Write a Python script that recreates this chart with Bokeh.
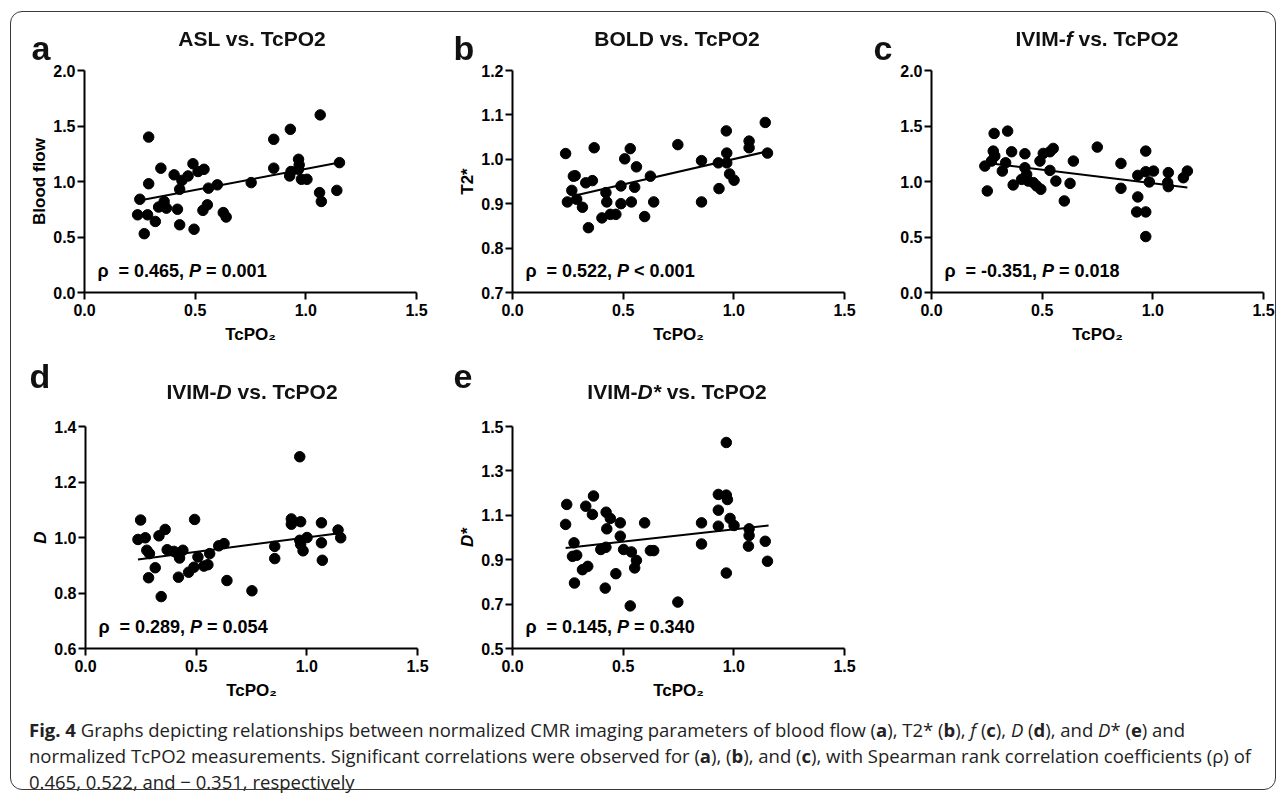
from bokeh.plotting import figure
from bokeh.models import Range1d, FixedTicker, Label, Div
from bokeh.layouts import column, row
from bokeh.embed import file_html
from bokeh.resources import INLINE

# ---------------- data ----------------
x_ticks = [0.0, 0.5, 1.0, 1.5]
x_tick_labels = ["0.0", "0.5", "1.0", "1.5"]

a_x = [0.29, 0.25, 0.24, 0.285, 0.27, 0.29, 0.32, 0.345, 0.335, 0.36, 0.37, 0.405, 0.42, 0.43, 0.43,
       0.44, 0.468, 0.49, 0.495, 0.513, 0.54, 0.535, 0.555, 0.56, 0.60, 0.627, 0.64, 0.753, 0.855,
       0.855, 0.93, 0.927, 0.933, 0.967, 0.97, 0.967, 0.98, 1.005, 1.065, 1.062, 1.07, 1.14, 1.152]
a_y = [1.40, 0.84, 0.70, 0.70, 0.53, 0.98, 0.64, 1.12, 0.77, 0.82, 0.76, 1.06, 0.75, 0.93, 0.61,
       1.01, 1.05, 1.16, 0.57, 1.09, 1.11, 0.74, 0.79, 0.94, 0.97, 0.72, 0.68, 0.99, 1.38,
       1.12, 1.47, 1.05, 1.09, 1.20, 1.15, 1.11, 1.02, 1.02, 1.60, 0.90, 0.82, 0.92, 1.17]
a_fit_x = [0.2475, 1.17]
a_fit_y = [0.829, 1.177]
a_yticks = [0.0, 0.5, 1.0, 1.5, 2.0]
a_ytick_labels = ["0.0", "0.5", "1.0", "1.5", "2.0"]

b_x = [0.24, 0.248, 0.268, 0.283, 0.275, 0.29, 0.316, 0.331, 0.343, 0.361, 0.369, 0.404, 0.422, 0.426,
       0.442, 0.467, 0.49, 0.49, 0.507, 0.532, 0.537, 0.552, 0.56, 0.623, 0.597, 0.638, 0.747,
       0.854, 0.854, 0.93, 0.933, 0.966, 0.968, 0.968, 0.981, 1.001, 1.069, 1.069, 1.142, 1.152]
b_y = [1.013, 0.904, 0.930, 0.963, 0.962, 0.910, 0.892, 0.947, 0.846, 0.952, 1.026, 0.868, 0.925, 0.904,
       0.876, 0.876, 0.940, 0.900, 1.001, 1.024, 0.904, 0.937, 0.983, 0.962, 0.871, 0.904, 1.033,
       0.997, 0.904, 0.992, 0.934, 1.064, 1.014, 0.992, 0.967, 0.953, 1.041, 1.026, 1.083, 1.014]
b_fit_x = [0.268, 1.152]
b_fit_y = [0.917, 1.018]
b_yticks = [0.7, 0.8, 0.9, 1.0, 1.1, 1.2]
b_ytick_labels = ["0.7", "0.8", "0.9", "1.0", "1.1", "1.2"]

c_x = [0.241, 0.252, 0.283, 0.279, 0.286, 0.271, 0.32, 0.335, 0.344, 0.362, 0.369, 0.422, 0.422,
       0.407, 0.43, 0.437, 0.46, 0.475, 0.494, 0.49, 0.505, 0.535, 0.55, 0.535, 0.562, 0.60, 0.626,
       0.641, 0.749, 0.856, 0.856, 0.932, 0.932, 0.927, 0.968, 0.968, 0.968, 0.968, 0.984, 1.003,
       1.07, 1.067, 1.07, 1.138, 1.156]
c_y = [1.139, 0.915, 1.433, 1.274, 1.229, 1.184, 1.094, 1.169, 1.454, 1.268, 0.969, 1.250, 1.124,
       1.019, 1.064, 1.004, 0.99, 0.96, 0.93, 1.184, 1.253, 1.268, 1.298, 1.10, 1.004, 0.825, 0.983,
       1.184, 1.31, 1.163, 0.939, 1.055, 0.861, 0.726, 0.726, 0.504, 1.274, 1.088, 0.996, 1.094,
       1.08, 0.99, 0.954, 1.034, 1.094]
c_fit_x = [0.271, 1.156]
c_fit_y = [1.163, 0.945]
c_yticks = [0.0, 0.5, 1.0, 1.5, 2.0]
c_ytick_labels = ["0.0", "0.5", "1.0", "1.5", "2.0"]

d_x = [0.249, 0.237, 0.27, 0.277, 0.289, 0.285, 0.315, 0.332, 0.36, 0.342, 0.369, 0.40, 0.42, 0.425,
       0.44, 0.42, 0.466, 0.49, 0.493, 0.508, 0.535, 0.553, 0.561, 0.602, 0.626, 0.639, 0.752, 0.855,
       0.855, 0.93, 0.93, 0.968, 0.972, 0.968, 0.972, 0.983, 1.001, 1.066, 1.066, 1.07, 1.141, 1.153]
d_y = [1.063, 0.993, 0.999, 0.954, 0.942, 0.855, 0.891, 1.006, 1.029, 0.787, 0.956, 0.95, 0.938, 0.926,
       0.954, 0.857, 0.875, 0.893, 1.065, 0.93, 0.897, 0.902, 0.942, 0.97, 0.978, 0.845, 0.808, 0.968,
       0.924, 1.067, 1.048, 1.291, 1.057, 0.99, 0.975, 0.952, 1.0, 1.053, 0.981, 0.918, 1.027, 0.999]
d_fit_x = [0.237, 1.164]
d_fit_y = [0.921, 1.017]
d_yticks = [0.6, 0.8, 1.0, 1.2, 1.4]
d_ytick_labels = ["0.6", "0.8", "1.0", "1.2", "1.4"]

e_x = [0.24, 0.245, 0.278, 0.271, 0.29, 0.28, 0.316, 0.331, 0.34, 0.361, 0.366, 0.399, 0.419, 0.423,
       0.426, 0.422, 0.442, 0.467, 0.487, 0.487, 0.502, 0.532, 0.537, 0.56, 0.552, 0.597, 0.623, 0.638,
       0.747, 0.854, 0.854, 0.93, 0.93, 0.93, 0.966, 0.966, 0.971, 0.966, 0.983, 1.001, 1.069, 1.069,
       1.066, 1.142, 1.152]
e_y = [1.059, 1.149, 0.976, 0.915, 0.920, 0.795, 0.855, 1.141, 0.870, 1.104, 1.187, 0.946, 0.772, 1.114,
       1.039, 0.956, 1.086, 0.837, 1.066, 1.006, 0.946, 0.692, 0.935, 0.897, 0.863, 1.066, 0.941, 0.941,
       0.709, 1.066, 0.971, 1.123, 1.051, 1.194, 1.428, 1.191, 1.171, 0.84, 1.086, 1.054, 1.039, 1.009,
       0.961, 0.983, 0.893]
e_fit_x = [0.24, 1.157]
e_fit_y = [0.953, 1.054]
e_yticks = [0.5, 0.7, 0.9, 1.1, 1.3, 1.5]
e_ytick_labels = ["0.5", "0.7", "0.9", "1.1", "1.3", "1.5"]

panel_letters = ["a", "b", "c", "d", "e"]
panel_titles = ["ASL vs. TcPO2", "BOLD vs. TcPO2", "IVIM-<i>f</i> vs. TcPO2",
                "IVIM-<i>D</i> vs. TcPO2", "IVIM-<i>D*</i> vs. TcPO2"]

# ---------------- styling helpers ----------------
FONT = "Liberation Sans"
BW = {" ": .278, "*": .389, ",": .278, "-": .333, ".": .278, "<": .584, "=": .584,
      "P": .667, "ρ": .611}


def tw(s, size):
    return sum(BW.get(ch, 0.556) for ch in s) * size


def rich(p, pieces, x, y, size):
    off = x
    for t, st in pieces:
        words = t.split(" ")
        for i, w in enumerate(words):
            if w:
                p.add_layout(Label(x=off, y=y, x_units="screen", y_units="screen", text=w,
                                   text_font=FONT, text_font_size=f"{size}px", text_font_style=st,
                                   text_align="left", text_baseline="middle", text_color="black"))
            off += tw(w, size)
            if i < len(words) - 1:
                off += tw(" ", size)


def style_axis(ax, is_x):
    ax.axis_line_width = 2
    ax.axis_line_color = "black"
    ax.major_tick_line_width = 2
    ax.major_tick_line_color = "black"
    ax.major_tick_out = 7
    ax.major_tick_in = 0
    ax.minor_tick_line_color = None
    ax.major_label_text_font = FONT
    ax.major_label_text_font_size = "16px"
    ax.major_label_text_font_style = "bold"
    ax.major_label_text_color = "black"
    ax.axis_label_text_font = FONT
    ax.axis_label_text_font_size = "17px"
    ax.axis_label_text_color = "black"
    if is_x:
        ax.major_label_standoff = 4
        ax.axis_label_standoff = 6
    else:
        ax.major_label_standoff = 2
        ax.axis_label_standoff = 1


def panel(xs, ys, fx, fy, yt, ytl, yr, ylabel, ylabel_style, stat_pieces, bl, br, bt, bb):
    p = figure(output_backend="svg", toolbar_location=None,
               frame_width=332, frame_height=222,
               min_border_left=bl, min_border_right=br, min_border_top=bt, min_border_bottom=bb,
               x_range=Range1d(0, 1.5), y_range=Range1d(*yr))
    p.outline_line_color = None
    p.grid.visible = False
    p.background_fill_color = "white"
    p.border_fill_color = "white"
    p.xaxis.ticker = FixedTicker(ticks=x_ticks)
    p.xaxis.major_label_overrides = dict(zip(x_ticks, x_tick_labels))
    p.yaxis.ticker = FixedTicker(ticks=yt)
    p.yaxis.major_label_overrides = dict(zip(yt, ytl))
    p.xaxis.axis_label = "TcPO₂"
    p.yaxis.axis_label = ylabel
    style_axis(p.xaxis[0], True)
    style_axis(p.yaxis[0], False)
    p.xaxis.axis_label_text_font_style = "bold"
    p.yaxis.axis_label_text_font_style = ylabel_style
    p.line(fx, fy, line_color="black", line_width=2)
    p.scatter(xs, ys, size=10.5, fill_color="black", line_color="black")
    rich(p, stat_pieces, 13, 22, 18)
    return p


pa = panel(a_x, a_y, a_fit_x, a_fit_y, a_yticks, a_ytick_labels, (0, 2), "Blood flow", "bold",
           [("ρ  = 0.465, ", "bold"), ("P", "bold italic"), (" = 0.001", "bold")],
           77, 21, 63, 67)
pb = panel(b_x, b_y, b_fit_x, b_fit_y, b_yticks, b_ytick_labels, (0.7, 1.2), "T2*", "bold",
           [("ρ  = 0.522, ", "bold"), ("P", "bold italic"), (" < 0.001", "bold")],
           75, 13, 63, 67)
pc = panel(c_x, c_y, c_fit_x, c_fit_y, c_yticks, c_ytick_labels, (0, 2), "", "bold",
           [("ρ  = -0.351, ", "bold"), ("P", "bold italic"), (" = 0.018", "bold")],
           74, 12, 63, 67)
pd_ = panel(d_x, d_y, d_fit_x, d_fit_y, d_yticks, d_ytick_labels, (0.6, 1.4), "D", "bold italic",
            [("ρ  = 0.289, ", "bold"), ("P", "bold italic"), (" = 0.054", "bold")],
            78, 20, 67, 56)
pe = panel(e_x, e_y, e_fit_x, e_fit_y, e_yticks, e_ytick_labels, (0.5, 1.5), "D*", "bold italic",
           [("ρ  = 0.145, ", "bold"), ("P", "bold italic"), (" = 0.340", "bold")],
           75, 13, 67, 56)

# panel letters and titles (page positions of centre x, baseline y)
letter_pos = [(41, 60), (464, 60), (883, 60), (40, 388), (463, 388)]
title_pos = [(252, 45.5), (677, 45.5), (1097, 45.5), (252, 399), (677, 399)]


def overlay(txt, cx, base, fs):
    top = base - 0.8465 * fs
    return (f'<div style="position:fixed;left:{cx}px;top:{top:.1f}px;transform:translateX(-50%);'
            f'font-family:\'{FONT}\';font-weight:bold;font-size:{fs}px;line-height:1;'
            f'white-space:nowrap;color:#111;">{txt}</div>')


overlays = "".join(overlay(t, x, y, 34) for t, (x, y) in zip(panel_letters, letter_pos))
overlays += "".join(overlay(t, x, y, 21) for t, (x, y) in zip(panel_titles, title_pos))

caption_html = (
    '<div style="position:fixed;left:10px;top:11px;width:1266px;height:779px;'
    'border:1.5px solid #3a3a3a;border-radius:12px;box-sizing:border-box;pointer-events:none;"></div>'
    + overlays +
    '<div style="font-family:\'Open Sans\';font-size:18.5px;line-height:26px;color:#222;'
    'padding:8px 0 0 17px;white-space:nowrap;">'
    '<b>Fig. 4</b> Graphs depicting relationships between normalized CMR imaging parameters of blood flow '
    '(<b>a</b>), T2* (<b>b</b>), <i>f</i> (<b>c</b>), <i>D</i> (<b>d</b>), and <i>D</i>* (<b>e</b>) and<br>'
    'normalized TcPO2 measurements. Significant correlations were observed for (<b>a</b>), (<b>b</b>), '
    'and (<b>c</b>), with Spearman rank correlation coefficients (ρ) of<br>'
    '0.465, 0.522, and − 0.351, respectively</div>'
)
caption = Div(text=caption_html, width=1268, height=84)

layout = column(row(pa, pb, pc), row(pd_, pe), caption, margin=(7, 0, 0, 7))
open("out.html", "w").write(file_html(layout, INLINE))
